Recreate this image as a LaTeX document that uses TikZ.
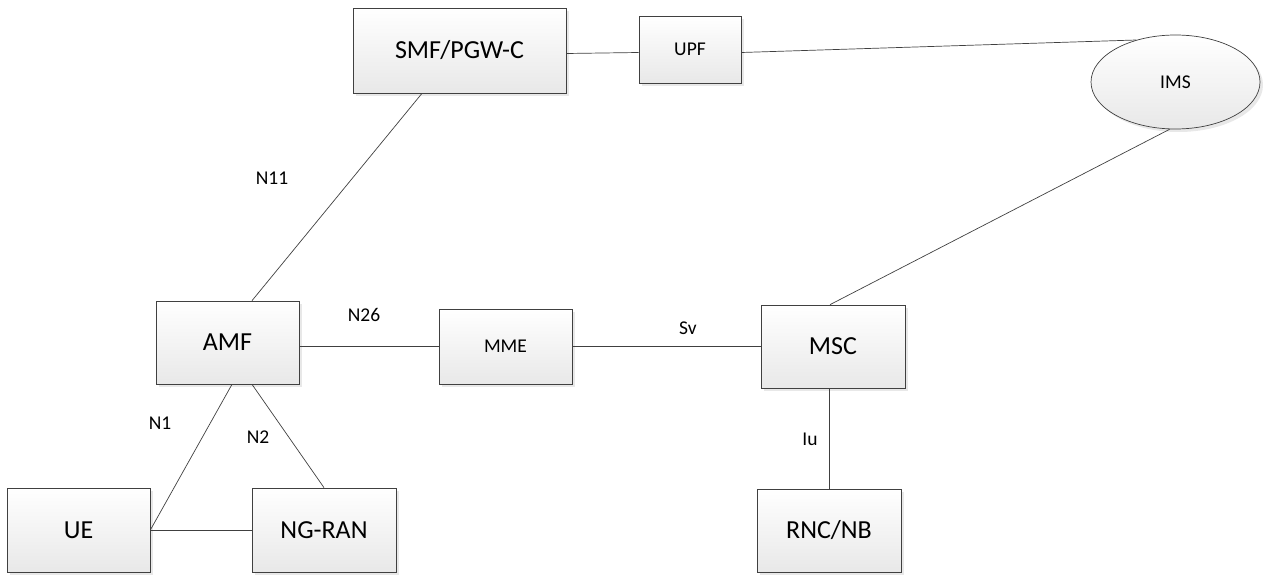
\documentclass[tikz,border=0pt]{standalone}
\usepackage{fontspec}
\setmainfont{Carlito}
\usetikzlibrary{shapes.geometric,shadows}
\tikzset{
  boxbase/.style={draw=black!75, line width=0.7pt, top color=white, bottom color=black!9,
    inner sep=0pt, align=center,
    drop shadow={opacity=0.18, shadow xshift=3pt, shadow yshift=-3pt}},
  bigbox/.style={boxbase, rectangle, font=\fontsize{26}{29}\selectfont},
  smallbox/.style={boxbase, rectangle, font=\fontsize{19.5}{22}\selectfont},
  imsshape/.style={boxbase, ellipse, font=\fontsize{19.5}{22}\selectfont},
  link/.style={draw=black!75, line width=0.7pt},
  iflabel/.style={inner sep=0pt, font=\fontsize{19.5}{22}\selectfont}
}
\begin{document}
\begin{tikzpicture}[x=1pt,y=-1pt]
\useasboundingbox (0,0) rectangle (1263,575);
% nodes
\node[bigbox, minimum width=213pt, minimum height=85pt] (SMF) at (459.5,50.5) {SMF/PGW-C};
\node[smallbox, minimum width=102pt, minimum height=67pt] (UPF) at (690,49.5) {UPF};
\node[imsshape, minimum width=169pt, minimum height=94pt] (IMS) at (1175.5,82) {IMS};
\node[bigbox, minimum width=143pt, minimum height=83pt] (AMF) at (227.5,342.5) {AMF};
\node[smallbox, minimum width=133pt, minimum height=75pt] (MME) at (505.5,346.5) {MME};
\node[bigbox, minimum width=144pt, minimum height=83pt] (MSC) at (833,346.5) {MSC};
\node[bigbox, minimum width=143pt, minimum height=84pt] (UE) at (78.5,530) {UE};
\node[bigbox, minimum width=144pt, minimum height=84pt] (NGRAN) at (324,530) {NG-RAN};
\node[bigbox, minimum width=144pt, minimum height=83pt] (RNC) at (829,530.5) {RNC/NB};
% connectors
\draw[link] ([yshift=-3pt]SMF.east) -- ([yshift=-3pt]UPF.west);
\draw[link] ([yshift=-3pt]UPF.east) -- (IMS.133);
\draw[link] (IMS.263) -- ([xshift=-3pt]MSC.north);
\draw[link] ([xshift=-37.5pt]SMF.south) -- ([xshift=24.5pt]AMF.north);
\draw[link] (MME.west -| AMF.east) -- (MME.west);
\draw[link] (MME.east) -- (MSC.west);
\draw[link] (RNC.north |- MSC.south) -- (RNC.north);
\draw[link] ([xshift=4.5pt]AMF.south) -- (UE.east);
\draw[link] ([xshift=24.5pt]AMF.south) -- (NGRAN.north);
\draw[link] (UE.east) -- (NGRAN.west);
% labels
\node[iflabel] (lN11) at (272,178) {N11};
\node[iflabel] (lN26) at (364,315) {N26};
\node[iflabel] (lSv) at (688,328) {Sv};
\node[iflabel] (lN1) at (160,423) {N1};
\node[iflabel] (lN2) at (258,437) {N2};
\node[iflabel] (lIu) at (810,439) {Iu};
\end{tikzpicture}
\end{document}
